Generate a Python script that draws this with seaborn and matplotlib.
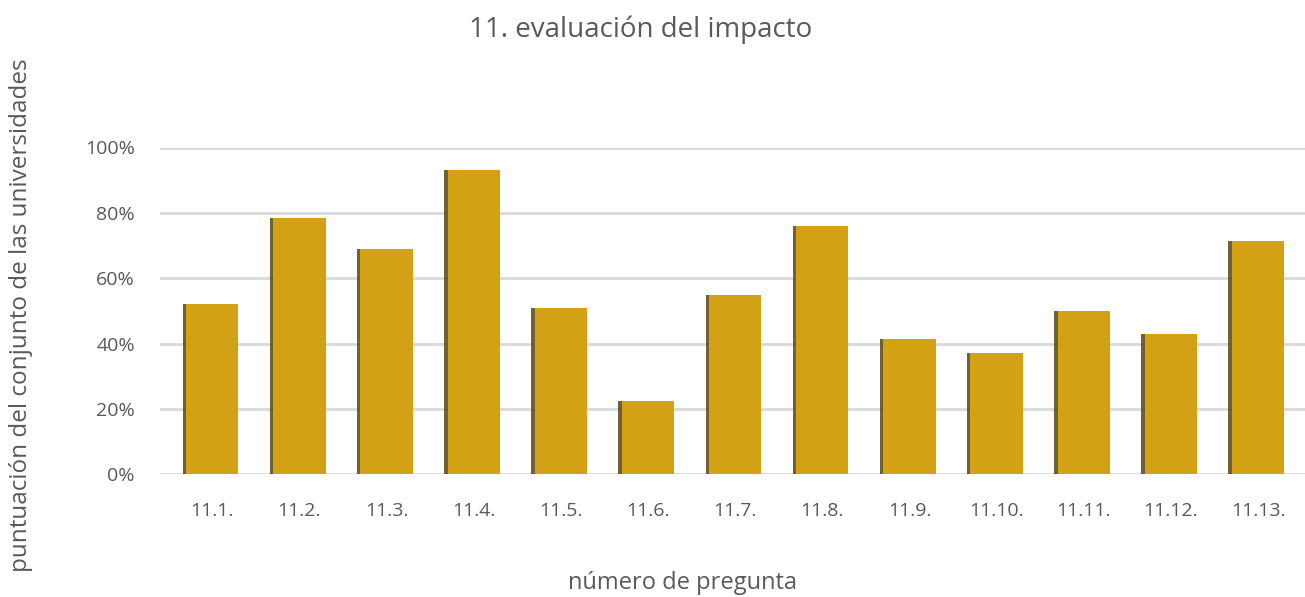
import matplotlib
matplotlib.use("Agg")
import matplotlib.pyplot as plt
import matplotlib.patheffects as pe
from matplotlib.ticker import FuncFormatter
import seaborn as sns
import pandas as pd

categories = ["11.1.", "11.2.", "11.3.", "11.4.", "11.5.", "11.6.", "11.7.",
              "11.8.", "11.9.", "11.10.", "11.11.", "11.12.", "11.13."]
values = [52, 78.5, 69, 93, 51, 22.5, 55, 76, 41.5, 37, 50, 43, 71.5]
yticks = [0, 20, 40, 60, 80, 100]

df = pd.DataFrame({"pregunta": categories, "valor": values})

sns.set_theme(style="white")
plt.rcParams["font.family"] = ["Open Sans", "DejaVu Sans"]
text_color = "#595959"

fig = plt.figure(figsize=(13.05, 5.97), dpi=100)
ax = fig.add_axes([160/1305, 1-474.3/597, (1305-160)/1305, (474.3-147.5)/597])

sns.barplot(data=df, x="pregunta", y="valor", color="#D2A114", saturation=1,
            width=0.6, ax=ax, zorder=3, edgecolor="none", linewidth=0)
for p in ax.patches:
    p.set_path_effects([pe.SimplePatchShadow(offset=(-2.5, 0), shadow_rgbFace="#5a4510", alpha=0.85),
                        pe.Normal()])

ax.set_ylim(0, 100)
ax.set_xlim(-0.6, 12.54)
ax.set_yticks(yticks)
ax.yaxis.set_major_formatter(FuncFormatter(lambda v, _: f"{v:.0f}%"))
ax.grid(axis="y", color="#d9d9d9", linewidth=2, zorder=0)
ax.set_axisbelow(True)
for s in ax.spines.values():
    s.set_visible(False)
ax.tick_params(axis="both", length=0, colors=text_color, labelsize=14)
ax.tick_params(axis="x", pad=20)
ax.tick_params(axis="y", pad=18)

ax.set_xlabel("número de pregunta", fontsize=17, color=text_color)
ax.xaxis.set_label_coords((683-160)/1145, -(583-474.3)/326.8)
ax.xaxis.label.set_va("center")
ax.set_ylabel("puntuación del conjunto de las universidades", fontsize=17.5,
              color=text_color)
ax.yaxis.set_label_coords((33-160)/1145, (474.3-315)/326.8)
fig.text(641/1305, 1-30/597, "11. evaluación del impacto", ha="center", va="center",
         fontsize=20, color=text_color)

fig.savefig("out.png", dpi=100)
